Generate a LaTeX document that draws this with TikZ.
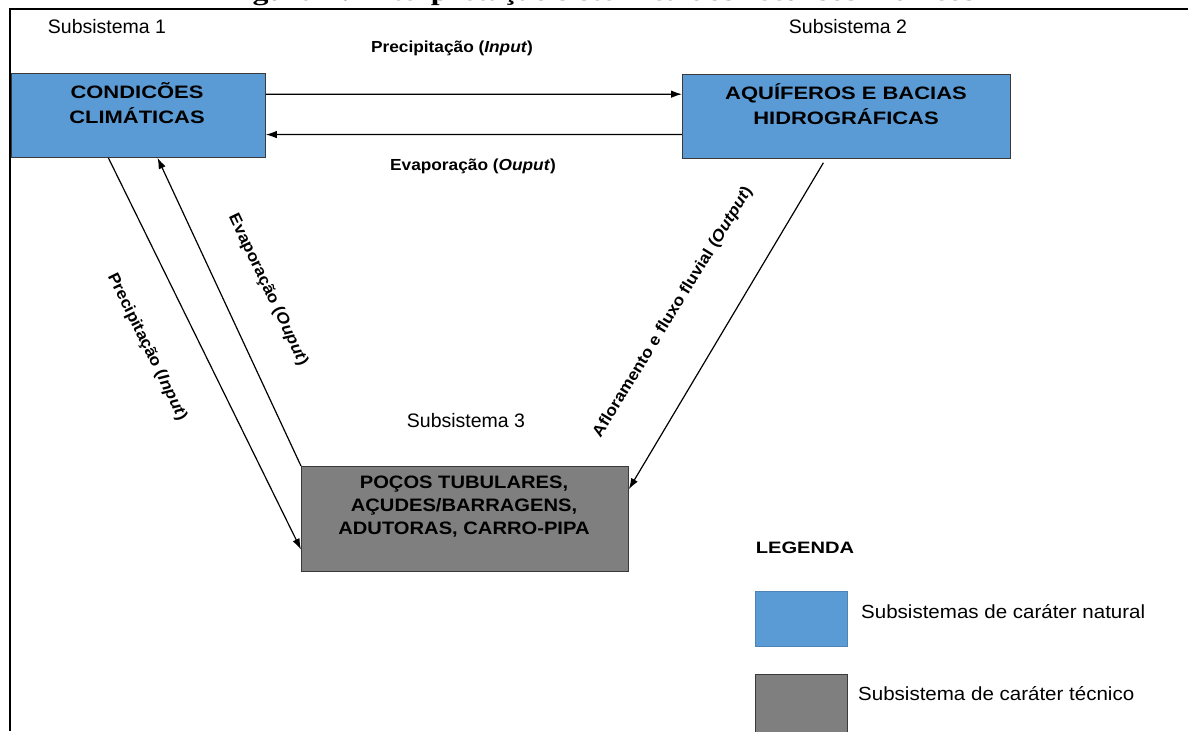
\documentclass[tikz,border=0pt]{standalone}
\usepackage{fontspec}
\setmainfont{Liberation Sans}
\newfontfamily\bxfont{Liberation Sans}[FakeStretch=1.22]
\newfontfamily\pcfont{Liberation Sans}[FakeStretch=1.12]
\newfontfamily\lbfont{Liberation Sans}[FakeStretch=1.08]
\newfontfamily\ttlfont{Liberation Serif}[FakeStretch=1.33]
\usetikzlibrary{arrows.meta,calc}
\definecolor{natblue}{HTML}{5B9BD5}
\definecolor{tecgray}{HTML}{7F7F7F}
\definecolor{edgec}{HTML}{3A3A3A}
\begin{document}
\begin{tikzpicture}[x=1pt,y=-1pt,
  natbox/.style={draw=edgec, line width=0.8pt, fill=natblue, inner sep=0pt, anchor=north west},
  tecbox/.style={draw=edgec, line width=0.8pt, fill=tecgray, inner sep=0pt, anchor=north west},
  boxtext/.style={font=\bxfont\fontsize{18}{25}\selectfont\bfseries, align=center, inner sep=0pt},
  pocotext/.style={font=\pcfont\fontsize{18}{23}\selectfont\bfseries, align=center, inner sep=0pt},
  subtext/.style={font=\fontsize{19.5}{22}\selectfont, inner sep=0pt},
  flowlab/.style={font=\lbfont\fontsize{16}{20}\selectfont\bfseries, inner sep=0pt},
  legtext/.style={font=\lbfont\fontsize{19}{22}\selectfont, inner sep=0pt, anchor=west},
  flow/.style={line width=1.2pt, -{Latex[length=11pt,width=7.5pt]}}
]
\useasboundingbox (0,0) rectangle (1188,731);
\clip (0,0) rectangle (1188,731);
% title (cut off at top)
\node[font=\ttlfont\fontsize{24}{28}\selectfont\bfseries, anchor=base, inner sep=0pt] (title) at (600,0.3) {Figura 1: Interpretação sistêmica dos recursos hídricos};
% frame
\draw[line width=1.6pt] (10,731) -- (10,9) -- (1188,9);
% subsystem labels
\node[subtext] (sub1) at (107,27) {Subsistema 1};
\node[subtext] (sub2) at (848,27) {Subsistema 2};
\node[subtext] (sub3) at (466,421) {Subsistema 3};
% boxes
\node[natbox, minimum width=254pt, minimum height=84pt] (cond) at (11,73) {};
\node[natbox, minimum width=328pt, minimum height=84pt] (aqui) at (682,74) {};
\node[tecbox, minimum width=327pt, minimum height=105pt] (poco) at (301,466) {};
\node[boxtext] (condt) at (137,103) {CONDICÕES\\CLIMÁTICAS};
\node[boxtext] (aquit) at (846,104) {AQUÍFEROS E BACIAS\\HIDROGRÁFICAS};
\node[pocotext] (pocot) at (464,507) {POÇOS TUBULARES,\\AÇUDES/BARRAGENS,\\ADUTORAS, CARRO-PIPA};
% connectors
\draw[flow] ($(cond.north east)!0.25!(cond.south east)$) -- ($(aqui.north west)!0.238!(aqui.south west)$);
\draw[flow] ($(aqui.north west)!0.714!(aqui.south west)$) -- ($(cond.north east)!0.726!(cond.south east)$);
\draw[flow] ($(cond.south west)!0.382!(cond.south east)$) -- ($(poco.north west)!0.79!(poco.south west)$);
\draw[flow] (poco.north west) -- ($(cond.south west)!0.575!(cond.south east)$);
\draw[flow] ($(aqui.south west)!0.43!(aqui.south east)+(0,4)$) -- ($(poco.north east)!0.22!(poco.south east)$);
% connector labels
\node[flowlab] (l1) at (452,48) {Precipitação (\textit{Input})};
\node[flowlab] (l2) at (473,166) {Evaporação (\textit{Ouput})};
\node[flowlab, rotate=-63.8] (l3) at (147,347) {Precipitação (\textit{Input})};
\node[flowlab, rotate=-64.5] (l4) at (268,290) {Evaporação (\textit{Ouput})};
\node[flowlab, rotate=58.5] (l5) at (673,312) {Afloramento e fluxo fluvial (\textit{Output})};
% legend
\node[font=\bxfont\fontsize{16.5}{20}\selectfont\bfseries, inner sep=0pt] (legt) at (805,548) {LEGENDA};
\node[fill=natblue, draw=natblue!85!black, line width=0.6pt, inner sep=0pt, anchor=north west, minimum width=92pt, minimum height=55pt] (legnat) at (755,591) {};
\node[fill=tecgray, draw=edgec, line width=0.8pt, inner sep=0pt, anchor=north west, minimum width=92pt, minimum height=70pt] (legtec) at (755,674) {};
\node[legtext] (legnatt) at (861,612) {Subsistemas de caráter natural};
\node[legtext] (legtect) at (858,694) {Subsistema de caráter técnico};
\end{tikzpicture}
\end{document}
